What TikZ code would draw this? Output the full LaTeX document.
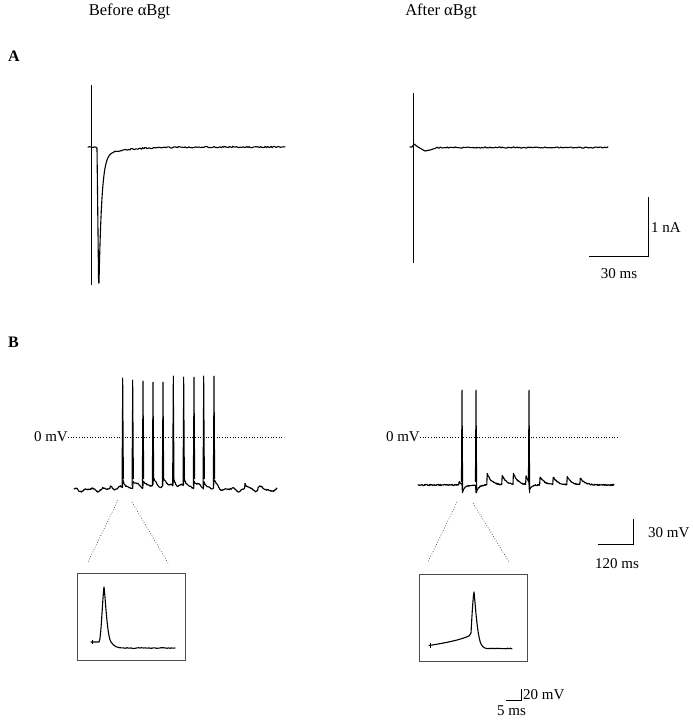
\documentclass[tikz,border=0pt]{standalone}
\usepackage{fontspec}
\setmainfont{Liberation Serif}
\begin{document}
\begin{tikzpicture}[x=1pt,y=-1pt,
  trace/.style={line width=1.1pt, line join=round, line cap=round},
  spike/.style={line width=1.0pt, line join=round},
  barline/.style={line width=0.9pt},
  zeroline/.style={line width=0.7pt, dash pattern=on 1pt off 1.7pt},
  zoomline/.style={line width=0.6pt, dash pattern=on 0.8pt off 1.8pt, black!75},
  insetbox/.style={draw=black!70, line width=0.8pt},
  lbl/.style={font=\fontsize{15}{18}\selectfont, inner sep=0pt},
  title/.style={font=\fontsize{16.5}{19}\selectfont, inner sep=0pt},
  panel/.style={font=\fontsize{16}{18}\selectfont\bfseries, inner sep=0pt},
  declare function={
    ep(\xq,\tq,\aq,\wq)=\aq*(\xq>\tq)*exp(-max(0,\xq-\tq)/\wq);
    adpL(\xq)=ep(\xq,122.7,8,3)+ep(\xq,132.7,8,3)+ep(\xq,143,8,3)+ep(\xq,153,8,3)+ep(\xq,163,8,3)+ep(\xq,173.3,8,3)+ep(\xq,183.7,8,3)+ep(\xq,194,8,3)+ep(\xq,203.7,8,3)+ep(\xq,214,8,3);
    epR(\xq)=ep(\xq,487,12,4.5)+ep(\xq,502,9.5,4.5)+ep(\xq,513,12,4.5)+ep(\xq,526,9,3)+ep(\xq,540,8.5,4.5)+ep(\xq,553,8,4.5)+ep(\xq,567,8,4.5)+ep(\xq,580,7,4.5)+ep(\xq,459,4,2);
    dipR(\xq)=ep(\xq,462,9,2.5)+ep(\xq,476,8,2.5)+ep(\xq,529,9,2.5);
  }]
\pgfmathsetseed{7}
\useasboundingbox (0,0) rectangle (693,720);

% ---------- titles ----------
\node[title, anchor=base] (before) at (129.5,16) {Before αBgt};
\node[title, anchor=base] (after) at (441,16) {After αBgt};
\node[panel, anchor=base west] (pA) at (8,61) {A};
\node[panel, anchor=base west] (pB) at (8,347) {B};

% ---------- Panel A, before ----------
\draw[spike] (91,85) -- (91,285);
\draw[trace] plot[domain=88:96, samples=7] (\x,{147+0.5*rand}) -- (97,148) -- (98.6,283)
  -- plot[domain=99:112, samples=40] (\x,{147+128*exp(-(\x-99)/2.8)+8*exp(-(\x-99)/25)})
  -- plot[domain=112.5:285, samples=150] (\x,{147+128*exp(-(\x-99)/2.8)+8*exp(-(\x-99)/25)+0.7*rand});

% ---------- Panel A, after ----------
\draw[spike] (413,93) -- (413,263);
\draw[trace] (410,147) -- (412,147) -- (414,144) -- (418,147) -- (425,151) -- (430,150) -- (436,148)
  -- plot[domain=437:608, samples=150] (\x,{147.5+0.6*rand});

% scale bar A
\coordinate (sAt) at (648,197);
\coordinate (sAc) at (648,256);
\coordinate (sAl) at (589,256);
\draw[barline] (sAt) -- (sAc) -- (sAl);
\node[lbl, anchor=base west] (nA) at (651,232) {1 nA};
\node[lbl, anchor=base] (msA) at (619,278) {30 ms};

% ---------- Panel B, before ----------
\node[lbl, anchor=base east] (zeroL) at (68,441) {0 mV};
\coordinate (zL1) at (68,437);
\coordinate (zL2) at (284,437);
\draw[zeroline] (zL1) -- (zL2);
\draw[trace] plot[domain=74:277, samples=420]
  (\x,{490+1.2*sin(23*\x)+0.9*sin(41*\x+30)-4*exp(-((\x-165)/45)^2)+0.6*rand-adpL(\x)-ep(\x,110,3,4)-ep(\x,245,5,4)-ep(\x,258,3,4)});
\foreach \s/\t in {122.7/378,132.7/380,143/381,153/382,163/382,173.3/376,183.7/377,194/377,203.7/376,214/376}
  \draw[spike] (\s-0.7,486) -- (\s,\t) -- (\s+0.7,479);

% zoom lines and inset, before
\coordinate (zlA) at (118,500);
\coordinate (zlB) at (88,562);
\coordinate (zlC) at (132,502);
\coordinate (zlD) at (168,563);
\draw[zoomline] (zlA) -- (zlB);
\draw[zoomline] (zlC) -- (zlD);
\draw[insetbox] (77,573) rectangle (185,660);
\draw[line width=0.7pt] (92,640) -- (92,644);
\draw[trace] (91,642) -- (99,642) .. controls (101,641) and (102.5,598) .. (104,587)
  .. controls (105.5,598) and (107,636) .. (111,642)
  .. controls (114,646.5) and (117,648) .. (124,648)
  -- plot[domain=124.5:175, samples=40] (\x,{648+0.4*rand});

% ---------- Panel B, after ----------
\node[lbl, anchor=base east] (zeroR) at (420,441) {0 mV};
\coordinate (zR1) at (420,437);
\coordinate (zR2) at (618,437);
\draw[zeroline] (zR1) -- (zR2);
\draw[trace] plot[domain=418:614, samples=420]
  (\x,{485+0.6*rand-epR(\x)+dipR(\x)});
\foreach \s in {462,476,529}
  \draw[spike] (\s-0.6,482) -- (\s,390) -- (\s+0.7,493);

% scale bar B
\coordinate (sBt) at (633,519);
\coordinate (sBc) at (633,544);
\coordinate (sBl) at (598,544);
\draw[barline] (sBt) -- (sBc) -- (sBl);
\node[lbl, anchor=base west] (mV30) at (648,537) {30 mV};
\node[lbl, anchor=base] (ms120) at (617,568) {120 ms};

% zoom lines and inset, after
\coordinate (zrA) at (457,502);
\coordinate (zrB) at (428,562);
\coordinate (zrC) at (473,503);
\coordinate (zrD) at (509,562);
\draw[zoomline] (zrA) -- (zrB);
\draw[zoomline] (zrC) -- (zrD);
\draw[insetbox] (419,574) rectangle (527,661);
\draw[line width=0.7pt] (430,643) -- (430,648);
\draw[trace] (429,645.5) .. controls (445,643) and (460,640) .. (469,636) -- (471,633)
  .. controls (472,615) and (473,597) .. (474,592)
  .. controls (475,600) and (477,635) .. (481,644)
  .. controls (483,648) and (486,649) .. (490,648.5)
  -- plot[domain=490.5:512, samples=16] (\x,{648.5+0.4*rand});

% small scale bar
\coordinate (sCt) at (521,689);
\coordinate (sCc) at (521,700);
\coordinate (sCl) at (506,700);
\draw[line width=0.8pt] (sCt) -- (sCc) -- (sCl);
\node[lbl, anchor=base west] (mV20) at (523,699) {20 mV};
\node[lbl, anchor=base west] (ms5) at (497,715) {5 ms};
\end{tikzpicture}
\end{document}
